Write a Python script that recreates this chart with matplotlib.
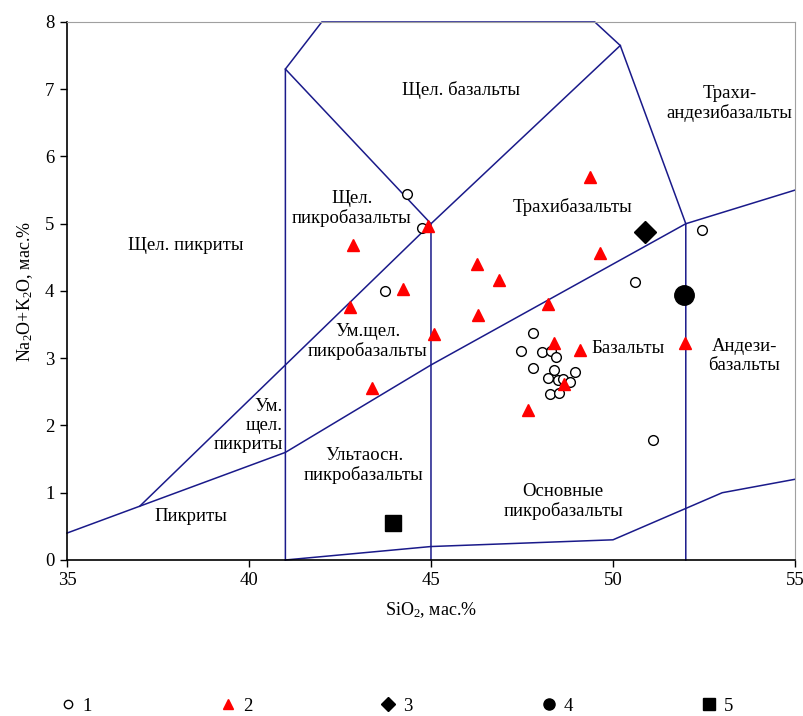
import numpy as np
import matplotlib
matplotlib.use("Agg")
from matplotlib import pyplot as plt
from matplotlib.lines import Line2D

plt.rcParams['font.family'] = ['Liberation Serif', 'DejaVu Serif']
plt.rcParams['mathtext.fontset'] = 'custom'
plt.rcParams['mathtext.rm'] = 'Liberation Serif'
plt.rcParams['mathtext.default'] = 'rm'

# границы полей диаграммы
b1_x = [35, 37, 41, 45, 52]
b1_y = [0.4, 0.8, 1.6, 2.9, 5.0]
b2_x = [37, 45, 50.2]
b2_y = [0.8, 5.0, 7.65]
b3_x = [41, 41, 42, 49.5, 50.2, 52, 52]
b3_y = [0, 7.3, 8, 8, 7.65, 5.0, 0]
b4_x = [41, 45, 45]
b4_y = [7.3, 5.0, 0]
b5_x = [52, 55]
b5_y = [5.0, 5.5]
b6_x = [41, 45, 50, 53, 55]
b6_y = [0, 0.2, 0.3, 1.0, 1.2]

# 1 - открытые кружки
s1_x = [44.33, 44.76, 43.75, 47.81, 47.47, 48.06, 48.29, 48.43, 47.81, 48.38,
        48.21, 48.50, 48.62, 48.82, 48.96, 48.28, 48.52, 50.60, 52.45, 51.10]
s1_y = [5.44, 4.94, 4.00, 3.38, 3.11, 3.09, 3.11, 3.02, 2.85, 2.83,
        2.70, 2.68, 2.69, 2.64, 2.80, 2.47, 2.49, 4.14, 4.91, 1.78]
# 2 - красные треугольники
s2_x = [44.93, 49.37, 46.26, 46.87, 44.24, 49.64, 46.30, 48.22, 45.09, 48.39,
        49.09, 48.66, 47.67, 43.37, 42.87, 42.77, 51.98]
s2_y = [4.97, 5.70, 4.40, 4.16, 4.03, 4.56, 3.65, 3.80, 3.36, 3.23,
        3.12, 2.61, 2.23, 2.55, 4.68, 3.76, 3.22]
# 3, 4, 5
s3_x, s3_y = [50.88], [4.88]
s4_x, s4_y = [51.96], [3.94]
s5_x, s5_y = [43.97], [0.55]

labels = [
    ("Щел. базальты", 45.82, 6.99, 'center'),
    ("Трахи-\nандезибазальты", 53.2, 6.79, 'center'),
    ("Щел.\nпикробазальты", 42.83, 5.23, 'center'),
    ("Щел. пикриты", 38.26, 4.67, 'center'),
    ("Трахибазальты", 48.89, 5.25, 'center'),
    ("Ум.щел.\nпикробазальты", 43.27, 3.25, 'center'),
    ("Базальты", 50.41, 3.14, 'center'),
    ("Андези-\nбазальты", 53.6, 3.03, 'center'),
    ("Ум.\nщел.\nпикриты", 40.93, 2.0, 'right'),
    ("Ультаосн.\nпикробазальты", 43.16, 1.41, 'center'),
    ("Пикриты", 38.4, 0.64, 'center'),
    ("Основные\nпикробазальты", 48.63, 0.87, 'center'),
]

fig = plt.figure(figsize=(8.04, 7.16), dpi=100)
ax = fig.add_axes([0.0833, 0.2179, 0.9055, 0.7514])

lc = '#1a1a8a'
for bx, by in [(b1_x, b1_y), (b2_x, b2_y), (b3_x, b3_y), (b4_x, b4_y),
               (b5_x, b5_y), (b6_x, b6_y)]:
    ax.plot(bx, by, color=lc, lw=1.1, clip_on=False, zorder=2)

ax.plot(s1_x, s1_y, 'o', ms=7, mfc='white', mec='black', mew=1.0, ls='none', zorder=3)
ax.plot(s2_x, s2_y, '^', ms=9, color='red', ls='none', zorder=4)
ax.plot(s3_x, s3_y, 'D', ms=11, color='black', ls='none', zorder=4)
ax.plot(s4_x, s4_y, 'o', ms=14, color='black', ls='none', zorder=4)
ax.plot(s5_x, s5_y, 's', ms=12, color='black', ls='none', zorder=4)

for txt, x, y, ha in labels:
    ax.text(x, y, txt, ha=ha, va='center', multialignment=ha, fontsize=13.5,
            linespacing=1.15, zorder=5)

ax.set_xlim(35, 55)
ax.set_ylim(0, 8)
ax.set_xticks(np.arange(35, 56, 5))
ax.set_yticks(np.arange(0, 9, 1))
ax.tick_params(direction='out', length=5, width=1, labelsize=13.5, pad=4)
ax.spines['top'].set_color('#a0a0a0')
ax.spines['right'].set_color('#a0a0a0')
ax.spines['left'].set_linewidth(1.2)
ax.spines['bottom'].set_linewidth(1.2)
ax.set_xlabel("SiO$_2$, мас.%", fontsize=13, labelpad=8)
ax.set_ylabel("Na$_2$O+K$_2$O, мас.%", fontsize=13, labelpad=7)

handles = [
    Line2D([], [], marker='o', ls='none', ms=6, mfc='white', mec='black'),
    Line2D([], [], marker='^', ls='none', ms=7, color='red'),
    Line2D([], [], marker='D', ls='none', ms=7, color='black'),
    Line2D([], [], marker='o', ls='none', ms=8, color='black'),
    Line2D([], [], marker='s', ls='none', ms=8, color='black'),
]
fig.legend(handles, ['1', '2', '3', '4', '5'], loc='center', ncol=5,
           bbox_to_anchor=(0.4925, 0.014), frameon=False, fontsize=13.5,
           handlelength=1.0, handletextpad=0.3, columnspacing=6.75)

fig.savefig("out.png", dpi=100)
